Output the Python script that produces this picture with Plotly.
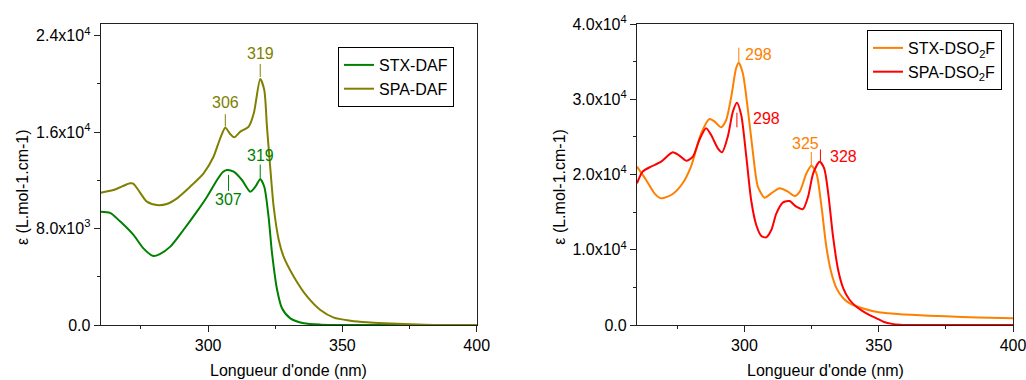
import numpy as np
import plotly.graph_objects as go

# ---------------- data ----------------
wl_stx_daf = [260, 263.5, 267.2, 272.2, 275.9, 279.6, 282, 285.9, 290.8, 295.8, 299.6, 303.3, 305.5, 307,
              309.5, 312.6, 315.7, 317.6, 319.4, 320.9, 322.5, 323.8, 325.7, 327.5, 330.6, 335.6, 342, 360, 400]
eps_stx_daf = [9400, 9300, 8600, 7470, 6360, 5720, 5880, 6500, 7880, 9400, 10640, 12030, 12700, 12860,
               12720, 12030, 11060, 11470, 12090, 11470, 8980, 5950, 2900, 1385, 555, 140, 30, 0, 0]

wl_spa_daf = [260, 264.7, 268, 270.9, 272.1, 274, 277.2, 280.9, 284.6, 288.4, 293.3, 298.3, 302, 304.5,
              306.4, 308.2, 309.7, 312, 315.1, 317, 319.4, 320.9, 321.9, 323.2, 324.4, 326.3, 328.1, 331.9,
              336.9, 341.8, 346.8, 353, 359.3, 365.5, 375.4, 384, 400]
eps_spa_daf = [10975, 11200, 11500, 11755, 11730, 11200, 10230, 9955, 10040, 10510, 11470, 12580, 13960, 15490,
               16370, 15850, 15570, 16040, 16450, 17560, 20410, 19500, 16450, 12860, 9810, 7050, 5670, 4010,
               2350, 1245, 610, 360, 220, 140, 55, 0, 0]

wl_stx_dso2f = [260, 263.4, 266.5, 269, 273.3, 277, 280.1, 283.9, 287, 288.9, 291.3, 293.2, 295.1, 296.9,
                297.9, 299.4, 301.3, 303.2, 305, 307.5, 310, 313.1, 316.2, 318.7, 320.6, 323.1, 324.9, 326.8,
                328.7, 330.5, 332.4, 334.3, 336.8, 339.2, 344.2, 350, 356, 362, 375, 387, 400]
eps_stx_dso2f = [21040, 19270, 17500, 16830, 17410, 18830, 21040, 25470, 27380, 27030, 26270, 27240, 30340, 34110,
                 34860, 33450, 28570, 22820, 18380, 16920, 17500, 18160, 17720, 17140, 17720, 20160, 21170, 20160,
                 15720, 10400, 6870, 4870, 3550, 2880, 2200, 1700, 1500, 1350, 1150, 1000, 900]

wl_spa_dso2f = [260, 262.1, 265.2, 269, 273.3, 275.8, 278.3, 280.8, 283.2, 285.7, 287.6, 290.1, 291.7, 293.8,
                295.7, 297.2, 298.8, 300.7, 302.5, 304.4, 306.3, 308.1, 310, 311.9, 314.4, 316.8, 319.3, 321.8,
                323.7, 325.6, 328, 329.7, 331.2, 333, 334.9, 336.8, 339.2, 341.7, 345.4, 349.2, 352, 355, 358,
                360, 400]
eps_spa_dso2f = [18830, 20380, 21040, 21700, 22950, 22510, 21840, 22370, 24590, 26140, 25250, 23480, 22950, 25030,
                 28350, 29540, 27910, 22370, 16610, 13290, 11830, 11650, 12620, 14840, 16300, 16480, 15720, 15410,
                 17050, 20160, 21700, 20820, 17500, 11740, 7310, 4880, 3320, 2430, 1550, 890, 400, 150, 30,
                 0, 0]

names = ["STX-DAF", "SPA-DAF", "STX-DSO<sub>2</sub>F", "SPA-DSO<sub>2</sub>F"]
colors = ["#008000", "#808000", "#FF8000", "#FF0000"]

left_yticks = [0, 8000, 16000, 24000]
left_yticktext = ["0.0", "8.0x10<sup>3</sup>", "1.6x10<sup>4</sup>", "2.4x10<sup>4</sup>"]
right_yticks = [0, 10000, 20000, 30000, 40000]
right_yticktext = ["0.0", "1.0x10<sup>4</sup>", "2.0x10<sup>4</sup>", "3.0x10<sup>4</sup>", "4.0x10<sup>4</sup>"]

# peak labels: (series index, line position nm, label)
peak_pos = [319.4, 306.4, 319.4, 307.6, 297.9, 297.2, 324.9, 328.3]
peak_series = [1, 1, 0, 0, 2, 3, 2, 3]
peak_text = ["319", "306", "319", "307", "298", "298", "325", "328"]

series_x = [wl_stx_daf, wl_spa_daf, wl_stx_dso2f, wl_spa_dso2f]
series_y = [eps_stx_daf, eps_spa_daf, eps_stx_dso2f, eps_spa_dso2f]

# ---------------- figure ----------------
W, H = 1026, 380
FONT = "Liberation Sans, Arial, sans-serif"
fig = go.Figure()

for i in range(4):
    right = i >= 2
    fig.add_trace(go.Scatter(
        x=series_x[i], y=series_y[i], mode="lines", name=names[i],
        line=dict(color=colors[i], width=2, shape="spline", smoothing=0.7),
        xaxis="x2" if right else "x", yaxis="y2" if right else "y",
        legend="legend2" if right else "legend",
    ))

# label styles (pixel offsets relative to the curve)
line_off = [(2, 15), (1, 13.5), (0, 14.7), (-4.5, -20.5), (0, 15), (-10, -24.6), (0, 13.7), (0, 13.4)]
text_shift = [(0, 25), (0, 25), (0, 24), (0, -29), (4.6, 7.7), (14.3, -15.6), (-5.6, 22.7), (7.4, 6.7)]
text_anchor = ["center", "center", "center", "center", "left", "left", "center", "left"]

shapes = []
annotations = []
for k in range(len(peak_pos)):
    s = peak_series[k]
    xr = "x2" if s >= 2 else "x"
    yr = "y2" if s >= 2 else "y"
    yv = float(np.interp(peak_pos[k], series_x[s], series_y[s]))
    shapes.append(dict(type="line", xref=xr, yref=yr, ysizemode="pixel", yanchor=yv,
                       x0=peak_pos[k], x1=peak_pos[k], y0=line_off[k][0], y1=line_off[k][1],
                       line=dict(color=colors[s], width=1)))
    annotations.append(dict(x=peak_pos[k], y=yv, xref=xr, yref=yr, text=peak_text[k], showarrow=False,
                            xanchor=text_anchor[k], yanchor="middle",
                            xshift=text_shift[k][0], yshift=text_shift[k][1],
                            font=dict(family=FONT, size=16, color=colors[s])))

# axis titles
for xc in (22, 558.7):
    annotations.append(dict(x=xc / W, y=1 - 187 / H, xref="paper", yref="paper", showarrow=False,
                            text="ε (L.mol-1.cm-1)", textangle=-90, xanchor="center", yanchor="middle",
                            font=dict(family=FONT, size=16, color="black")))
for xc in (288.5, 825):
    annotations.append(dict(x=xc / W, y=1 - 370 / H, xref="paper", yref="paper", showarrow=False,
                            text="Longueur d'onde (nm)", xanchor="center", yanchor="middle",
                            font=dict(family=FONT, size=16, color="black")))

ydom = [1 - 325 / H, 1 - 24 / H]
axis_common = dict(showline=True, linecolor="#222222", linewidth=1.2, ticks="outside", ticklen=6,
                   tickcolor="#222222", showgrid=False, zeroline=False, automargin=False, mirror=True,
                   ticklabeloverflow="allow",
                   tickfont=dict(family=FONT, size=16, color="black"))

fig.update_layout(
    template="none",
    width=W, height=H, margin=dict(l=0, r=0, t=0, b=0, pad=0, autoexpand=False),
    paper_bgcolor="white", plot_bgcolor="white",
    font=dict(family=FONT, size=16, color="black"),
    xaxis=dict(domain=[100.7 / W, 476.7 / W], range=[260, 400], tickmode="linear", tick0=300, dtick=50,
               anchor="y",
               minor=dict(ticks="outside", ticklen=3, tickmode="linear", tick0=275, dtick=50, tickcolor="#222222"),
               **axis_common),
    yaxis=dict(domain=ydom, range=[0, 24970], tickmode="array", tickvals=left_yticks, ticktext=left_yticktext,
               anchor="x",
               minor=dict(ticks="outside", ticklen=3, tickmode="linear", tick0=4000, dtick=8000, tickcolor="#222222"),
               **axis_common),
    xaxis2=dict(domain=[637 / W, 1013 / W], range=[260, 400], tickmode="linear", tick0=300, dtick=50,
                anchor="y2",
                minor=dict(ticks="outside", ticklen=3, tickmode="linear", tick0=275, dtick=50, tickcolor="#222222"),
                **axis_common),
    yaxis2=dict(domain=ydom, range=[0, 40000], tickmode="array", tickvals=right_yticks, ticktext=right_yticktext,
                anchor="x2",
                minor=dict(ticks="outside", ticklen=3, tickmode="linear", tick0=5000, dtick=10000, tickcolor="#222222"),
                **axis_common),
    legend=dict(x=338 / W, y=1 - 47 / H, xanchor="left", yanchor="top", bordercolor="black", borderwidth=1,
                bgcolor="white", font=dict(family=FONT, size=16, color="black"), tracegroupgap=0),
    legend2=dict(x=867 / W, y=1 - 30 / H, xanchor="left", yanchor="top", bordercolor="black", borderwidth=1,
                 bgcolor="white", font=dict(family=FONT, size=16, color="black"), tracegroupgap=0),
    shapes=shapes, annotations=annotations, showlegend=True,
)

fig.write_html("out.html",
               config={"displayModeBar": False},
               post_script="document.body.style.margin='0px';document.body.style.padding='0px';"
                           "document.body.style.overflow='hidden';")
